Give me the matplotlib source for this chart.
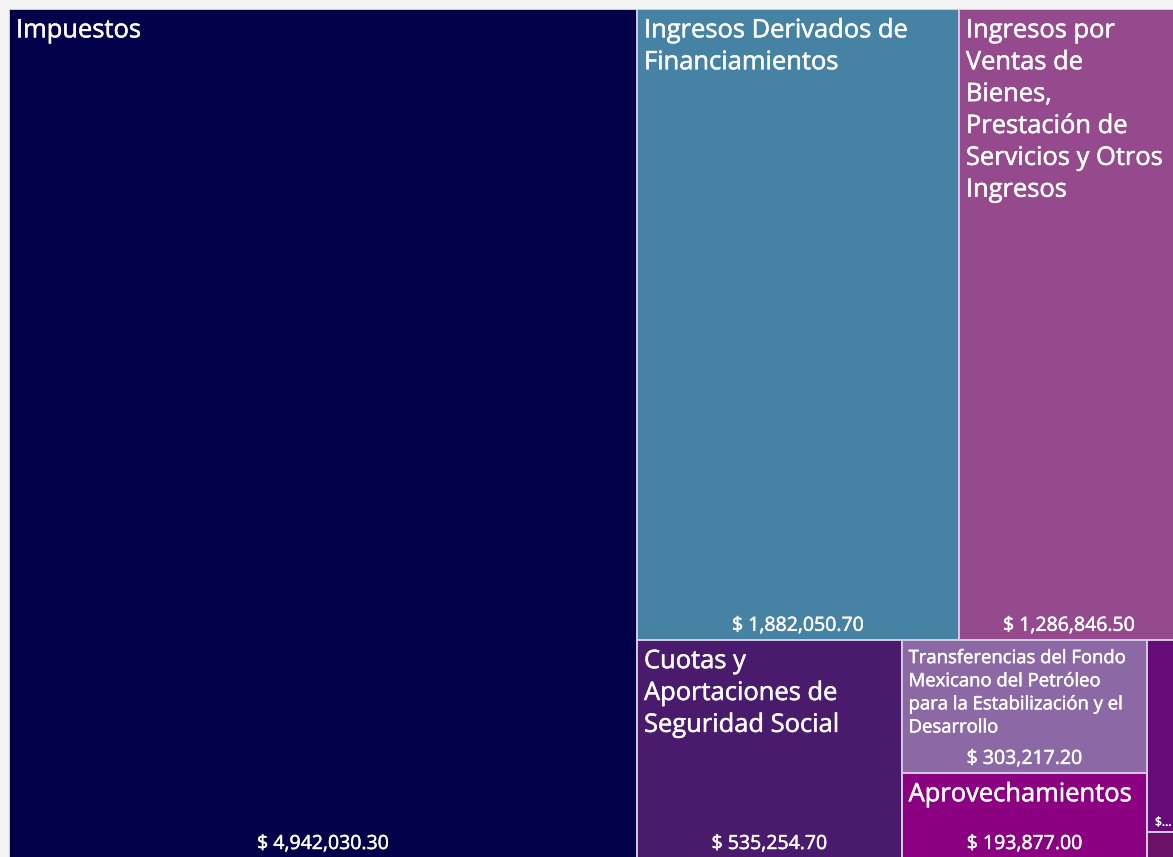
import matplotlib
matplotlib.use("Agg")
import matplotlib.pyplot as plt
import matplotlib.patheffects as pe
from matplotlib.patches import Rectangle
from matplotlib.font_manager import FontProperties

# Ingresos presupuestarios por rubro (millones de pesos)
categories = [
    "Impuestos",
    "Ingresos Derivados de\nFinanciamientos",
    "Ingresos por\nVentas de\nBienes,\nPrestación de\nServicios y Otros\nIngresos",
    "Cuotas y\nAportaciones de\nSeguridad Social",
    "Transferencias del Fondo\nMexicano del Petróleo\npara la Estabilización y el\nDesarrollo",
    "Aprovechamientos",
    "Derechos",
    "Productos",
]
values = [4942030.30, 1882050.70, 1286846.50, 535254.70, 303217.20,
          193877.00, 56300.00, 7700.00]

colors = ["#03004a", "#4682a4", "#954a8e", "#4a1a6c", "#8c69a4",
          "#8b0081", "#660b78", "#6b1266"]

FONT = ["Open Sans", "DejaVu Sans"]
PHI = (1 + 5 ** 0.5) / 2
# slightly heavier glyphs for the tile labels
HEAVY = [pe.withStroke(linewidth=0.35, foreground="white")]


def squarify(vals, x0, y0, x1, y1, ratio=PHI):
    """Squarified treemap layout (same rules as d3.treemapSquarify)."""
    rects = {}
    n = len(vals)
    i0 = i1 = 0
    total = float(sum(vals))
    while i0 < n:
        dx, dy = x1 - x0, y1 - y0
        s = vals[i1]
        i1 += 1
        vmin = vmax = s
        alpha = max(dy / dx, dx / dy) / (total * ratio)
        beta = s * s * alpha
        min_ratio = max(vmax / beta, beta / vmin)
        while i1 < n:
            v = vals[i1]
            s2 = s + v
            nmin, nmax = min(vmin, v), max(vmax, v)
            beta = s2 * s2 * alpha
            new_ratio = max(nmax / beta, beta / nmin)
            if new_ratio > min_ratio:
                break
            s, vmin, vmax, min_ratio = s2, nmin, nmax, new_ratio
            i1 += 1
        row = range(i0, i1)
        if dx < dy:
            ny = y0 + dy * s / total
            cx = x0
            for k in row:
                w = dx * vals[k] / s
                rects[k] = (cx, y0, cx + w, ny)
                cx += w
            y0 = ny
        else:
            nx = x0 + dx * s / total
            cy = y0
            for k in row:
                h = dy * vals[k] / s
                rects[k] = (x0, cy, nx, cy + h)
                cy += h
            x0 = nx
        total -= s
        i0 = i1
    return rects


FIG_W, FIG_H = 1173, 857
W, H = 1170, 849          # treemap canvas in pixels
LEFT, TOP = 9, 9

fig = plt.figure(figsize=(FIG_W / 100, FIG_H / 100), dpi=100, facecolor="#f3f3f3")
ax = fig.add_axes([LEFT / FIG_W, (FIG_H - TOP - H) / FIG_H, W / FIG_W, H / FIG_H])
ax.set_xlim(0, W)
ax.set_ylim(H, 0)
ax.axis("off")

renderer = fig.canvas.get_renderer()


def px2pt(px):
    return px * 72 / 100


def text_width(s, size_px):
    fp = FontProperties(family=FONT, size=px2pt(size_px))
    w, _, _ = renderer.get_text_width_height_descent(s, fp, ismath=False)
    return w


def fmt(v):
    return "$ {:,.2f}".format(v)


rects = squarify(values, 0, 0, W, H)

TITLE_PX = 25.5
LINE_STEP = 1.25
VAL_PX = 19.5

for k, (x0, y0, x1, y1) in sorted(rects.items()):
    ax.add_patch(Rectangle((x0, y0), x1 - x0, y1 - y0, facecolor=colors[k],
                           edgecolor="#d2cae2", linewidth=1.4))
    tw, th = x1 - x0, y1 - y0
    pad = 7

    # value label at the bottom of the tile
    val = fmt(values[k])
    val_text = None
    if th >= 30:
        if text_width(val, VAL_PX) <= tw - 2 * pad:
            val_text, val_size, val_off = val, VAL_PX, 9
        elif text_width("$...", 12) <= tw - 4:
            val_text, val_size, val_off = "$...", 12, 6
    if val_text:
        ax.text((x0 + x1) / 2, y1 - val_off, val_text, ha="center", va="baseline",
                color="white", fontsize=px2pt(val_size), family=FONT,
                path_effects=HEAVY)

    # category label at the top-left, shrunk until it fits
    lines = categories[k].split("\n")
    avail_h = th - 10 - (VAL_PX + 14 if val_text else 0)
    fs = TITLE_PX
    while fs >= 10:
        widest = max(text_width(l, fs) for l in lines)
        need = 0.72 * fs + (len(lines) - 1) * LINE_STEP * fs + 6
        if widest <= tw - 2 * pad and need <= avail_h:
            break
        fs -= 0.5
    if fs < 10:
        continue
    for i, line in enumerate(lines):
        yb = y0 + 10 + 0.72 * fs + i * LINE_STEP * fs
        ax.text(x0 + pad, yb, line, ha="left", va="baseline", color="white",
                fontsize=px2pt(fs), family=FONT, path_effects=HEAVY)

fig.savefig("out.png", dpi=100, facecolor=fig.get_facecolor())
